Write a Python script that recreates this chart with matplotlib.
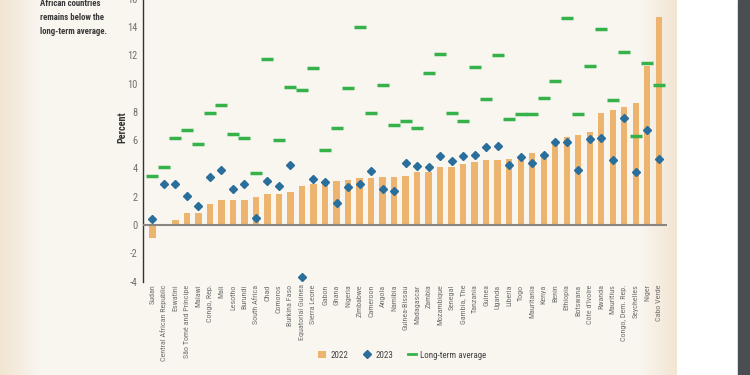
import numpy as np
import matplotlib
matplotlib.use("Agg")
import matplotlib.pyplot as plt
from matplotlib.patches import Patch
from matplotlib.lines import Line2D
from matplotlib.colors import to_rgb
from matplotlib import font_manager

available = {f.name for f in font_manager.fontManager.ttflist}
narrow_prefs = ['Liberation Sans Narrow', 'Roboto Condensed', 'Open Sans Condensed',
                'DejaVu Sans Condensed', 'Noto Sans Condensed']
chosen = None
for name in narrow_prefs:
    if name in available:
        chosen = name
        break
if chosen is None:
    chosen = 'Roboto' if 'Roboto' in available else 'Liberation Sans'
    scale = 0.86
else:
    scale = 1.0
plt.rcParams['font.family'] = [chosen, 'DejaVu Sans']

countries = ["Sudan", "Central African Republic", "Eswatini", "São Tomé and Príncipe", "Malawi",
             "Congo, Rep.", "Mali", "Lesotho", "Burundi", "South Africa", "Chad", "Comoros",
             "Burkina Faso", "Equatorial Guinea", "Sierra Leone", "Gabon", "Ghana", "Nigeria",
             "Zimbabwe", "Cameroon", "Angola", "Namibia", "Guinea-Bissau", "Madagascar", "Zambia",
             "Mozambique", "Senegal", "Gambia, The", "Tanzania", "Guinea", "Uganda", "Liberia",
             "Togo", "Mauritania", "Kenya", "Benin", "Ethiopia", "Botswana", "Côte d'Ivoire",
             "Rwanda", "Mauritius", "Congo, Dem. Rep.", "Seychelles", "Niger", "Cabo Verde"]

growth_2022 = [-0.9, 0.0, 0.35, 0.87, 0.87, 1.5, 1.74, 1.74, 1.79, 1.98, 2.16, 2.19,
               2.35, 2.75, 2.9, 3.0, 3.13, 3.18, 3.34, 3.34, 3.36, 3.41, 3.46, 3.72, 3.76,
               4.07, 4.07, 4.28, 4.45, 4.59, 4.59, 4.7, 4.82, 5.08, 5.1, 5.9, 6.24, 6.35, 6.56,
               7.9, 8.12, 8.35, 8.59, 11.25, 14.68]

growth_2023 = [0.42, 2.9, 2.9, 2.02, 1.34, 3.39, 3.9, 2.54, 2.9, 0.52, 3.1, 2.73,
               4.24, -3.67, 3.25, 3.06, 1.55, 2.7, 2.87, 3.81, 2.54, 2.38, 4.38, 4.16, 4.12,
               4.85, 4.54, 4.87, 4.94, 5.48, 5.55, 4.21, 4.8, 4.4, 4.92, 5.88, 5.86, 3.88, 6.09,
               6.12, 4.56, 7.55, 3.72, 6.75, 4.7]

long_term_avg = [3.48, 4.07, 6.16, 6.68, 5.76, 7.9, 8.5, 6.4, 6.16, 3.67, 11.7, 6.02,
                 9.74, 9.55, 11.1, 5.3, 6.87, 9.67, 13.98, 7.9, 9.93, 7.06, 7.32, 6.87, 10.73,
                 12.1, 7.9, 7.32, 11.18, 8.94, 12.02, 7.46, 7.86, 7.86, 9.0, 10.19, 14.64, 7.84, 11.22,
                 13.84, 8.87, 12.21, 6.28, 11.48, 9.86]

yticks = [-4, -2, 0, 2, 4, 6, 8, 10, 12, 14, 16]

fig = plt.figure(figsize=(7.5, 3.75), dpi=100, facecolor='white')

# background panel
bg = fig.add_axes([0, 0, 1, 1], zorder=-10)
bg.axis('off')
xs = np.arange(0, 677)
base = np.array(to_rgb('#f9f5ef'))
edge = np.array(to_rgb('#f2e5d2'))
t = np.zeros(len(xs))
t = np.maximum(t, np.clip((40 - xs) / 40.0, 0, 1))
t = np.maximum(t, np.clip((xs - 640) / 37.0, 0, 1))
grad = base[None, :] * (1 - t[:, None]) + edge[None, :] * t[:, None]
bg.imshow(grad[None, :, :], extent=[0, 677, 375, 0], aspect='auto')
bg.add_patch(plt.Rectangle((738, 0), 12, 375, color='#4a4e52'))
bg.set_xlim(0, 750)
bg.set_ylim(375, 0)

ax = fig.add_axes([0.1907, 0.249, 0.698, 0.7547])
ax.patch.set_alpha(0)
x = np.arange(len(countries))
ax.bar(x, growth_2022, width=0.55, color='#ecb46f', zorder=2)
ax.axhline(0, color='#8a8580', lw=1.5, zorder=3)
ax.plot(x, long_term_avg, ls='none', marker='_', ms=9, mew=2.5, color='#35b34a', zorder=4)
ax.plot(x, growth_2023, ls='none', marker='D', ms=4.0, color='#2a6e9c', zorder=5)

ax.set_xlim(-0.81, 44.67)
ax.set_ylim(-4, 16)
ax.set_yticks(yticks)
ax.set_yticklabels([str(v) for v in yticks])
ax.tick_params(axis='y', length=0, pad=4, labelsize=7.5 * scale, labelcolor='#707070')
ax.set_xticks(x)
ax.set_xticklabels(countries, rotation=90, fontsize=5.8 * scale, color='#707070')
ax.tick_params(axis='x', length=0, pad=2)
for s in ['top', 'right', 'bottom']:
    ax.spines[s].set_visible(False)
ax.spines['left'].set_color('#333333')
ax.spines['left'].set_linewidth(1.0)

fig.text(0.163, 0.661, 'Percent', rotation=90, ha='center', va='center',
         fontsize=7.3 * scale, fontweight='bold', color='#333333')

for yy, line in zip([4, 17.5, 31], ["African countries", "remains below the", "long-term average."]):
    fig.text(40 / 750, 1 - yy / 375, line, ha='left', va='center', fontsize=6.3 * scale,
             fontweight='bold', color='#3a3a3a')

handles = [Patch(facecolor='#ecb46f', edgecolor='none'),
           Line2D([], [], ls='none', marker='D', ms=4.0, color='#2a6e9c'),
           Line2D([], [], color='#35b34a', lw=2)]
fig.legend(handles, ['2022', '2023', 'Long-term average'], ncol=3, loc='center',
           bbox_to_anchor=(402 / 750, 0.053), frameon=False, fontsize=6.5 * scale,
           labelcolor='#444444', handlelength=0.9, handleheight=0.8, columnspacing=1.6,
           handletextpad=0.5)

fig.savefig('out.png', dpi=100, facecolor=fig.get_facecolor())
